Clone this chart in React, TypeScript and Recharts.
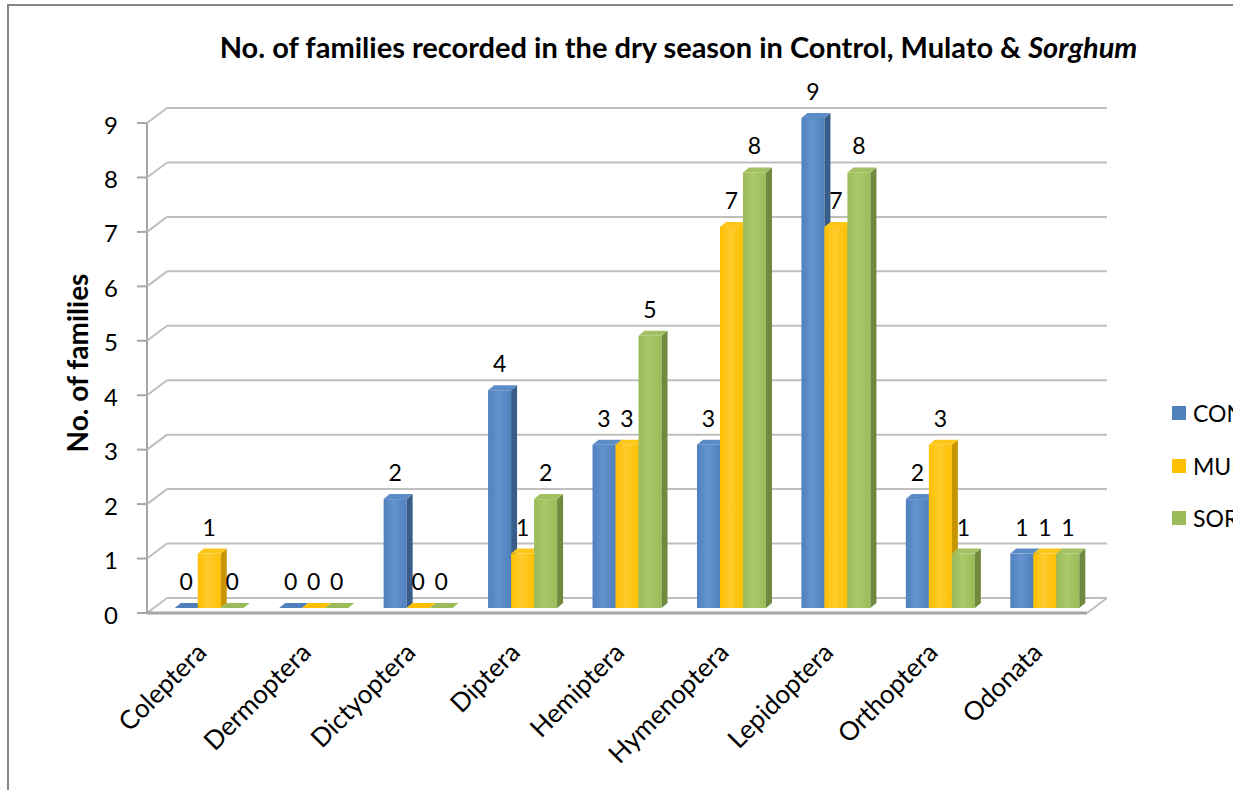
import React from "react";
import {
  BarChart,
  Bar,
  XAxis,
  YAxis,
  CartesianGrid,
  LabelList,
} from "recharts";

// Insect orders on the category axis
const orders = [
  "Coleptera",
  "Dermoptera",
  "Dictyoptera",
  "Diptera",
  "Hemiptera",
  "Hymenoptera",
  "Lepidoptera",
  "Orthoptera",
  "Odonata",
];

// Families recorded per treatment
const control = [0, 0, 2, 4, 3, 3, 9, 2, 1];
const mulato = [1, 0, 0, 1, 3, 7, 7, 3, 1];
const sorghum = [0, 0, 0, 2, 5, 8, 8, 1, 1];

const yTicks = [0, 1, 2, 3, 4, 5, 6, 7, 8, 9];

const series = [
  { key: "control", name: "CONTROL", front: "#4F81BD", light: "#6593CE", side: "#385D8A", top: "#5C8CC6" },
  { key: "mulato", name: "MULATO", front: "#FFC000", light: "#FFCB2E", side: "#C79500", top: "#FFC61A" },
  { key: "sorghum", name: "SORGHUM", front: "#9BBB59", light: "#A9C86A", side: "#71893F", top: "#A3C163" },
];

const data = orders.map((name, i) => ({
  name,
  control: control[i],
  mulato: mulato[i],
  sorghum: sorghum[i],
}));

const FONT = "Lato, 'Open Sans', sans-serif";
const W = 1233;
const H = 790;
const PLOT_TOP = 118;
const PLOT_BOTTOM = 608;
// 3D projection: back wall is shifted right/up, front edge left/down
const BACK_DX = 10;
const BACK_DY = -10;
const FRONT_DX = -10;
const FRONT_DY = 5;
const GRID = "#BFBFBF";
const AXIS = "#A6A6A6";

function make3DBar(s: (typeof series)[number]) {
  return (props: any) => {
    const { x, y, width, height } = props;
    const dx = 6;
    const dy = 5;
    const h = Math.max(0, height || 0);
    return (
      <g>
        {h > 0 && (
          <>
            <rect x={x} y={y} width={width} height={h} fill={`url(#grad-${s.key})`} />
            <polygon
              points={`${x + width},${y} ${x + width + dx},${y - dy} ${x + width + dx},${y + h - dy} ${x + width},${y + h}`}
              fill={s.side}
            />
          </>
        )}
        <polygon
          points={`${x},${y} ${x + width},${y} ${x + width + dx},${y - dy} ${x + dx},${y - dy}`}
          fill={h > 0 ? s.top : s.front}
        />
      </g>
    );
  };
}

function GridLine(props: any) {
  const { x1, x2, y1, index } = props;
  const isFloor = Math.abs(y1 - PLOT_BOTTOM) < 0.5;
  return (
    <g key={`g-${index}`}>
      <line
        x1={x1 + BACK_DX}
        x2={x2 + BACK_DX}
        y1={y1 + BACK_DY}
        y2={y1 + BACK_DY}
        stroke={GRID}
        strokeWidth={2}
      />
      <line
        x1={x1 + FRONT_DX}
        y1={y1 + FRONT_DY}
        x2={x1 + BACK_DX}
        y2={y1 + BACK_DY}
        stroke={GRID}
        strokeWidth={2}
      />
      {isFloor && (
        <>
          <line
            x1={x2 + FRONT_DX}
            y1={y1 + FRONT_DY}
            x2={x2 + BACK_DX}
            y2={y1 + BACK_DY}
            stroke={GRID}
            strokeWidth={2}
          />
          <line
            x1={x1 + FRONT_DX}
            x2={x2 + FRONT_DX}
            y1={y1 + FRONT_DY}
            y2={y1 + FRONT_DY}
            stroke={AXIS}
            strokeWidth={3}
          />
          <line
            x1={x1 + FRONT_DX}
            x2={x1 + FRONT_DX}
            y1={y1 + FRONT_DY}
            y2={PLOT_TOP + FRONT_DY}
            stroke={AXIS}
            strokeWidth={2}
          />
        </>
      )}
    </g>
  );
}

function YTick(props: any) {
  const { y, payload } = props;
  const axisX = 157 + FRONT_DX;
  return (
    <g>
      <line x1={axisX - 10} x2={axisX} y1={y + FRONT_DY} y2={y + FRONT_DY} stroke={AXIS} strokeWidth={2} />
      <text
        x={axisX - 29}
        y={y + 6}
        textAnchor="end"
        dominantBaseline="central"
        fontSize={24}
        fontFamily={FONT}
        fill="#000"
      >
        {payload.value}
      </text>
    </g>
  );
}

function XTick(props: any) {
  const { x, payload } = props;
  const ax = x - 1;
  const ay = PLOT_BOTTOM + 46;
  return (
    <text
      x={ax}
      y={ay}
      textAnchor="end"
      transform={`rotate(-45 ${ax} ${ay})`}
      fontSize={26}
      fontFamily={FONT}
      fill="#000"
    >
      {payload.value}
    </text>
  );
}

function YTitle(props: any) {
  const { viewBox } = props;
  const cx = viewBox.x + 77;
  const cy = viewBox.y + viewBox.height / 2;
  return (
    <text
      x={cx}
      y={cy}
      textAnchor="middle"
      dominantBaseline="central"
      transform={`rotate(-90 ${cx} ${cy})`}
      fontSize={28}
      fontWeight="bold"
      fontFamily={FONT}
      fill="#000"
    >
      No. of families
    </text>
  );
}

export default function App() {
  return (
    <div
      style={{
        position: "fixed",
        left: 0,
        top: 0,
        width: W,
        height: H,
        overflow: "hidden",
        background: "#fff",
        fontFamily: FONT,
      }}
    >
      <div
        style={{
          position: "absolute",
          left: 7,
          top: 4,
          width: 1400,
          height: 900,
          border: "2px solid #868686",
        }}
      />
      <div
        style={{
          position: "absolute",
          left: 0,
          width: 1357,
          top: 28,
          textAlign: "center",
          fontSize: 29,
          fontWeight: "bold",
          lineHeight: "38px",
          color: "#000",
          whiteSpace: "nowrap",
        }}
      >
        No. of families recorded in the dry season in Control, Mulato &amp; <i>Sorghum</i>
      </div>

      <div style={{ position: "absolute", left: 0, top: 0 }}>
        <BarChart
          width={W}
          height={H}
          data={data}
          margin={{ top: PLOT_TOP, right: W - 1097, bottom: 0, left: 0 }}
          barCategoryGap="17%"
          barGap={0}
        >
          <defs>
            {series.map((s) => (
              <linearGradient key={s.key} id={`grad-${s.key}`} x1="0" y1="0" x2="1" y2="0">
                <stop offset="0%" stopColor={s.front} />
                <stop offset="45%" stopColor={s.light} />
                <stop offset="100%" stopColor={s.front} />
              </linearGradient>
            ))}
          </defs>
          <CartesianGrid vertical={false} horizontal={(p: any) => <GridLine {...p} />} />
          <XAxis
            dataKey="name"
            height={H - PLOT_BOTTOM}
            axisLine={false}
            tickLine={false}
            tickSize={0}
            tickMargin={0}
            interval={0}
            tick={<XTick />}
          />
          <YAxis
            width={157}
            domain={[0, 9]}
            ticks={yTicks}
            interval={0}
            axisLine={false}
            tickLine={false}
            tickSize={0}
            tickMargin={0}
            tick={<YTick />}
            label={<YTitle />}
          />
          {series.map((s) => (
            <Bar
              key={s.key}
              dataKey={s.key}
              name={s.name}
              fill={s.front}
              shape={make3DBar(s)}
              isAnimationActive={false}
            >
              <LabelList
                dataKey={s.key}
                position="top"
                offset={18}
                fill="#000"
                fontSize={23}
                fontFamily={FONT}
              />
            </Bar>
          ))}
        </BarChart>
      </div>

      {series.map((s, i) => (
        <div
          key={s.key}
          style={{
            position: "absolute",
            left: 1172,
            top: 400 + i * 52.5,
            display: "flex",
            alignItems: "center",
            height: 26,
            fontSize: 23,
            color: "#000",
            whiteSpace: "nowrap",
          }}
        >
          <span style={{ width: 14, height: 14, background: s.front, marginRight: 7, display: "inline-block", flexShrink: 0 }} />
          {s.name}
        </div>
      ))}
    </div>
  );
}
